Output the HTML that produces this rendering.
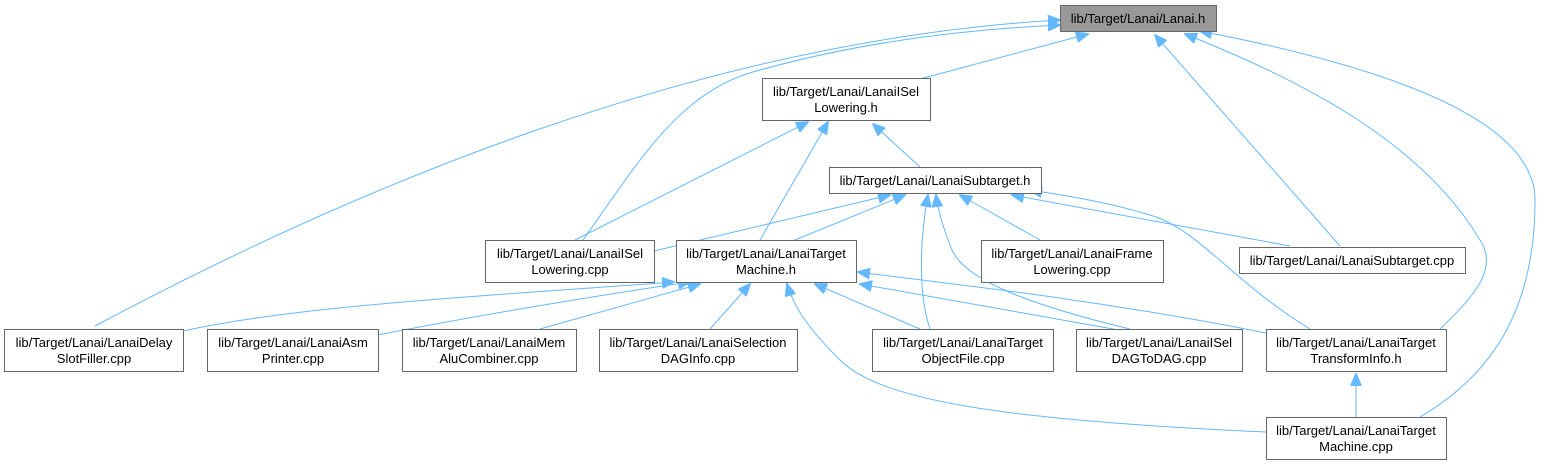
<!DOCTYPE html>
<html><head><meta charset="utf-8"><style>
body{margin:0;background:#fff}
svg{display:block}
text{font-family:"Liberation Sans",sans-serif;font-size:13px;fill:#000;text-anchor:middle}
.n{fill:#fff;stroke:#666;stroke-width:1}
.e{fill:none;stroke:#63b8ff;stroke-width:1}
</style></head><body>
<svg width="1559" height="465" viewBox="0 0 1559 465">
<defs><marker id="a" markerWidth="13" markerHeight="11" refX="12" refY="5.5" orient="auto" markerUnits="userSpaceOnUse"><path d="M0,0 L13,5.5 L0,11 z" fill="#63b8ff" stroke="#63b8ff"/></marker></defs>
<g class="e">
<path d="M95,326 C350,190 700,40 1060,20" marker-end="url(#a)"/>
<path d="M583,240 C640,160 680,90 760,70 C850,45 950,30 1060,25" marker-end="url(#a)"/>
<path d="M920,79 L1088,34" marker-end="url(#a)"/>
<path d="M1340,246 L1155,35" marker-end="url(#a)"/>
<path d="M1440,329 C1470,300 1500,270 1480,240 C1420,140 1300,80 1185,34" marker-end="url(#a)"/>
<path d="M1420,417 C1500,370 1535,300 1535,200 C1535,110 1350,60 1200,31" marker-end="url(#a)"/>
<path d="M575,240 L808,122" marker-end="url(#a)"/>
<path d="M760,240 L828,122" marker-end="url(#a)"/>
<path d="M920,167 L873,124" marker-end="url(#a)"/>
<path d="M654,251 L890,195" marker-end="url(#a)"/>
<path d="M795,240 L905,195" marker-end="url(#a)"/>
<path d="M930,329 C920,300 918,250 928,195" marker-end="url(#a)"/>
<path d="M1130,329 C1030,305 965,280 952,250 C944,230 938,212 936,195" marker-end="url(#a)"/>
<path d="M1040,240 L960,195" marker-end="url(#a)"/>
<path d="M1290,246 L1012,195" marker-end="url(#a)"/>
<path d="M1310,329 C1230,280 1200,230 1150,215 C1100,200 1060,195 1030,190" marker-end="url(#a)"/>
<path d="M183,331 C300,305 500,295 674,282" marker-end="url(#a)"/>
<path d="M378,335 C480,315 600,295 690,282" marker-end="url(#a)"/>
<path d="M540,329 L700,284" marker-end="url(#a)"/>
<path d="M710,329 L750,284" marker-end="url(#a)"/>
<path d="M920,329 L815,284" marker-end="url(#a)"/>
<path d="M1130,332 L860,284" marker-end="url(#a)"/>
<path d="M1266,333 C1100,300 960,285 858,272" marker-end="url(#a)"/>
<path d="M1266,432 C1000,420 880,400 840,360 C810,330 795,310 787,284" marker-end="url(#a)"/>
<path d="M1356,417 L1356,374" marker-end="url(#a)"/>
</g>
<rect x="1060.5" y="5.5" width="156" height="26" fill="#999" stroke="#666"/>
<text x="1138" y="23">lib/Target/Lanai/Lanai.h</text>
<rect class="n" x="762.5" y="78.5" width="168" height="42"/>
<text x="846" y="96">lib/Target/Lanai/LanaiISel</text><text x="846" y="112">Lowering.h</text>
<rect class="n" x="829.5" y="167.5" width="212" height="26"/>
<text x="935" y="185">lib/Target/Lanai/LanaiSubtarget.h</text>
<rect class="n" x="485.5" y="240.5" width="169" height="42"/>
<text x="570" y="258">lib/Target/Lanai/LanaiISel</text><text x="570" y="274">Lowering.cpp</text>
<rect class="n" x="676.5" y="240.5" width="180" height="42"/>
<text x="766" y="258">lib/Target/Lanai/LanaiTarget</text><text x="766" y="274">Machine.h</text>
<rect class="n" x="981.5" y="240.5" width="182" height="42"/>
<text x="1072" y="258">lib/Target/Lanai/LanaiFrame</text><text x="1072" y="274">Lowering.cpp</text>
<rect class="n" x="1239.5" y="247.5" width="226" height="26"/>
<text x="1352" y="265">lib/Target/Lanai/LanaiSubtarget.cpp</text>
<rect class="n" x="4.5" y="329.5" width="179" height="42"/>
<text x="94" y="347">lib/Target/Lanai/LanaiDelay</text><text x="94" y="363">SlotFiller.cpp</text>
<rect class="n" x="207.5" y="329.5" width="171" height="42"/>
<text x="293" y="347">lib/Target/Lanai/LanaiAsm</text><text x="293" y="363">Printer.cpp</text>
<rect class="n" x="402.5" y="329.5" width="174" height="42"/>
<text x="489" y="347">lib/Target/Lanai/LanaiMem</text><text x="489" y="363">AluCombiner.cpp</text>
<rect class="n" x="599.5" y="329.5" width="198" height="42"/>
<text x="698" y="347">lib/Target/Lanai/LanaiSelection</text><text x="698" y="363">DAGInfo.cpp</text>
<rect class="n" x="872.5" y="329.5" width="181" height="42"/>
<text x="963" y="347">lib/Target/Lanai/LanaiTarget</text><text x="963" y="363">ObjectFile.cpp</text>
<rect class="n" x="1076.5" y="329.5" width="166" height="42"/>
<text x="1159" y="347">lib/Target/Lanai/LanaiISel</text><text x="1159" y="363">DAGToDAG.cpp</text>
<rect class="n" x="1266.5" y="329.5" width="180" height="42"/>
<text x="1356" y="347">lib/Target/Lanai/LanaiTarget</text><text x="1356" y="363">TransformInfo.h</text>
<rect class="n" x="1266.5" y="417.5" width="180" height="42"/>
<text x="1356" y="435">lib/Target/Lanai/LanaiTarget</text><text x="1356" y="451">Machine.cpp</text>
</svg>
</body></html>
